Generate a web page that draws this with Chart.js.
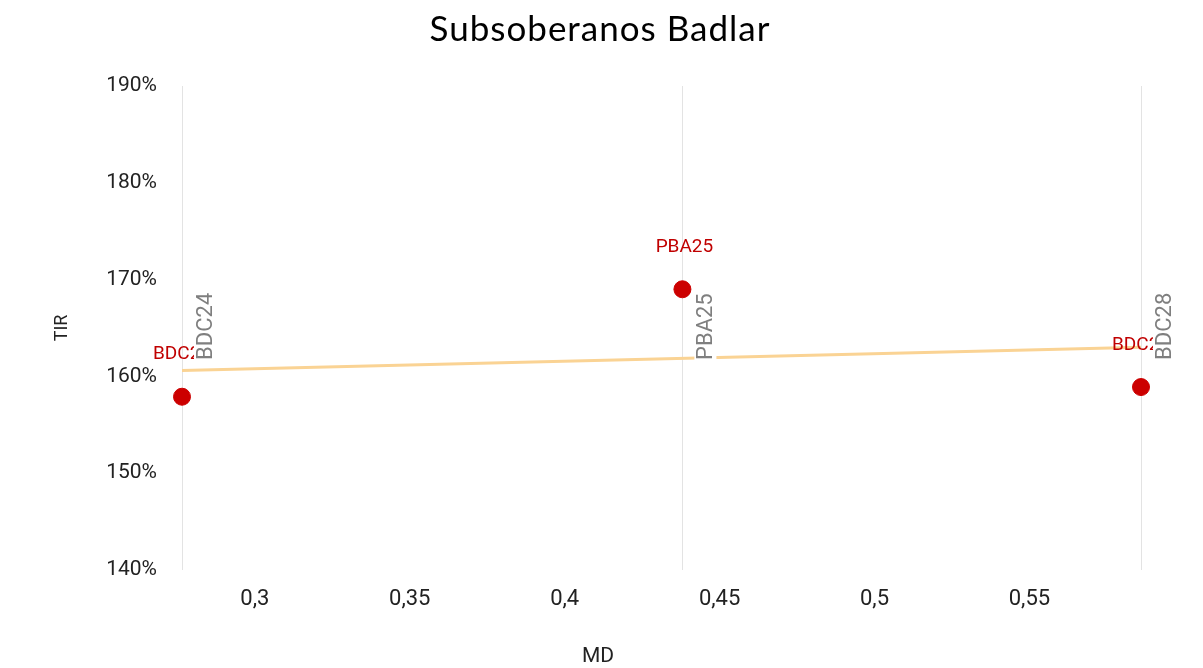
<!DOCTYPE html>
<html lang="es">
<head>
    <meta charset="UTF-8">
    <script src="https://cdn.jsdelivr.net/npm/chart.js"></script>
    <style>
        html, body { margin: 0; padding: 0; background: #fff; }
        #chartDiv { width: 1203px; height: 668px; }
    </style>
    <title>Subsoberanos Badlar</title>
</head>
<body>
    <div id="chartDiv">
        <canvas id="mdChart"></canvas>
    </div>
<script>
    // bonos: nombre, duracion modificada (MD) y TIR en %
    var bonos = ['BDC24', 'PBA25', 'BDC28'];
    var md = [0.2765, 0.438, 0.586];
    var tir = [157.9, 169.0, 158.9];

    // linea de tendencia (extremos)
    var trendMd = [0.2765, 0.586];
    var trendTir = [160.6, 163.0];

    // eje y
    var yMin = 140, yMax = 190, yStep = 10;
    var xStep = 0.05;

    // altura donde empiezan las etiquetas grises verticales
    var grayLabelBase = 161.7;

    var labelsPlugin = {
        id: 'bondLabels',
        beforeDatasetsDraw(chart) {
            let c = chart.ctx, a = chart.chartArea, x = chart.scales.x;
            c.save();
            c.strokeStyle = '#e3e3e3';
            c.lineWidth = 1;
            for (let i = 0; i < md.length; i++) {
                let px = Math.round(x.getPixelForValue(md[i])) + 0.5;
                c.beginPath();
                c.moveTo(px, a.top);
                c.lineTo(px, a.bottom);
                c.stroke();
            }
            c.restore();
        },
        afterDatasetsDraw(chart) {
            let c = chart.ctx, x = chart.scales.x, y = chart.scales.y;
            c.save();
            // etiquetas rojas
            c.font = '19px Roboto';
            c.fillStyle = '#c00000';
            c.textBaseline = 'middle';
            for (let i = 0; i < bonos.length; i++) {
                let px = x.getPixelForValue(md[i]);
                let py = y.getPixelForValue(tir[i]) - 42;
                if (bonos[i] === 'PBA25') {
                    c.textAlign = 'center';
                    c.fillText(bonos[i], px + 2, py);
                } else {
                    c.textAlign = 'left';
                    c.fillText(bonos[i], px - 29, py);
                }
            }
            // etiquetas grises verticales con fondo blanco
            c.font = '22px Roboto';
            let base = y.getPixelForValue(grayLabelBase);
            for (let i = 0; i < bonos.length; i++) {
                let px = x.getPixelForValue(md[i]) + 23;
                let w = c.measureText(bonos[i]).width;
                c.save();
                c.translate(px, base);
                c.rotate(-Math.PI / 2);
                c.fillStyle = '#fff';
                c.fillRect(-2, -11, w + 4, 22);
                c.fillStyle = '#7f7f7f';
                c.textAlign = 'left';
                c.textBaseline = 'middle';
                c.fillText(bonos[i], 0, 1);
                c.restore();
            }
            c.restore();
        },
        afterDraw(chart) {
            let c = chart.ctx;
            c.save();
            c.fillStyle = '#000';
            c.textAlign = 'center';
            c.textBaseline = 'middle';
            c.font = '35px Lato';
            c.letterSpacing = '1px';
            c.fillText('Subsoberanos Badlar', 600, 30);
            c.letterSpacing = '0px';
            c.fillStyle = '#222';
            c.font = '21px Roboto';
            c.fillText('MD', 598, 657);
            c.font = '18px Roboto';
            c.translate(62, 328);
            c.rotate(-Math.PI / 2);
            c.fillText('TIR', 0, 0);
            c.restore();
        }
    };

    var ctx = document.getElementById('mdChart');
    var chart = new Chart(ctx, {
        type: 'scatter',
        data: {
            datasets: [
                {
                    label: 'Bonos',
                    data: md.map((v, i) => ({ x: v, y: tir[i] })),
                    backgroundColor: '#cc0000',
                    borderColor: '#cc0000',
                    pointRadius: 8.5,
                    pointHoverRadius: 8.5,
                    clip: false,
                    order: 1
                },
                {
                    label: 'Tendencia',
                    data: trendMd.map((v, i) => ({ x: v, y: trendTir[i] })),
                    showLine: true,
                    borderColor: '#fad394',
                    borderWidth: 3,
                    pointRadius: 0,
                    clip: false,
                    order: 2
                }
            ]
        },
        options: {
            responsive: true,
            maintainAspectRatio: false,
            animation: false,
            layout: { padding: { left: 0, right: 62, top: 86, bottom: 0 } },
            plugins: {
                legend: { display: false },
                tooltip: { enabled: false },
                title: { display: false }
            },
            scales: {
                x: {
                    type: 'linear',
                    min: md[0],
                    max: md[md.length - 1],
                    border: { display: false },
                    grid: { display: false, drawTicks: false },
                    ticks: {
                        stepSize: xStep,
                        includeBounds: false,
                        padding: 16,
                        color: '#222',
                        font: { family: 'Roboto', size: 22 },
                        maxRotation: 0,
                        callback: v => String(Math.round(v * 100) / 100).replace('.', ',')
                    },
                    afterBuildTicks: s => {
                        s.ticks = s.ticks.filter(t => Math.abs(t.value / xStep - Math.round(t.value / xStep)) < 1e-6);
                    },
                    afterFit: s => { s.height = 98; }
                },
                y: {
                    min: yMin,
                    max: yMax,
                    border: { display: false },
                    grid: { display: false, drawTicks: false },
                    ticks: {
                        stepSize: yStep,
                        padding: 25,
                        color: '#222',
                        font: { family: 'Roboto', size: 21 },
                        callback: v => v + '%'
                    },
                    afterFit: s => { s.width = 182; }
                }
            }
        },
        plugins: [labelsPlugin]
    });
</script>
</body>
</html>
